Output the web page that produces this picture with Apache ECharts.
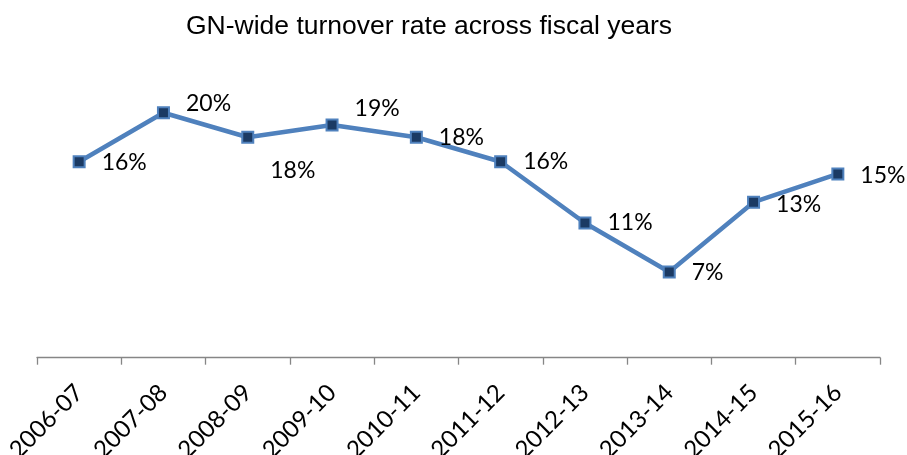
<!DOCTYPE html>
<html>
<head>
<meta charset="utf-8">
<script src="https://cdn.jsdelivr.net/npm/echarts@6/dist/echarts.min.js"></script>
<style>
  html, body { margin: 0; padding: 0; background: #fff; }
  #chart { width: 907px; height: 455px; }
</style>
</head>
<body>
<div id="chart"></div>
<script>
// Fiscal years on the category axis
const fiscalYears = ['2006-07', '2007-08', '2008-09', '2009-10', '2010-11',
                     '2011-12', '2012-13', '2013-14', '2014-15', '2015-16'];
// Turnover rate (%) per fiscal year
const turnoverRate = [16, 20, 18, 19, 18, 16, 11, 7, 12.7, 15];
// Vertical nudge of each value label, in px
const labelShiftY = [1, -9, 33, -16, 0, 0, 0, 1, 2, 2];

const chart = echarts.init(document.getElementById('chart'));

chart.setOption({
  animation: false,
  title: {
    text: 'GN-wide turnover rate across fiscal years',
    left: 424,
    top: 8,
    textAlign: 'center',
    textStyle: {
      fontFamily: 'Liberation Sans, Arial, sans-serif',
      fontSize: 26.5,
      fontWeight: 'normal',
      color: '#000'
    }
  },
  grid: {
    left: 37, right: 27, top: 51.5, bottom: 97.3,
    containLabel: false,
    outerBoundsMode: 'none'
  },
  xAxis: {
    type: 'category',
    data: fiscalYears,
    boundaryGap: true,
    axisLine: { show: true, lineStyle: { color: '#868686', width: 1.3 } },
    axisTick: { show: true, alignWithLabel: false, length: 7, lineStyle: { color: '#868686', width: 1.3 } },
    axisLabel: {
      rotate: 45,
      margin: 31,
      color: '#000',
      fontFamily: 'Lato, Open Sans, sans-serif',
      fontSize: 24
    }
  },
  yAxis: {
    type: 'value',
    min: 0,
    max: 25,
    show: false,
    splitLine: { show: false }
  },
  series: [{
    type: 'line',
    data: turnoverRate.map((v, i) => ({
      value: v,
      label: { offset: [0, labelShiftY[i]] }
    })),
    lineStyle: { color: '#4F81BD', width: 4.5 },
    symbol: 'rect',
    symbolSize: 11,
    itemStyle: { color: '#1B3A63', borderColor: '#4F81BD', borderWidth: 2 },
    label: {
      show: true,
      position: 'right',
      distance: 16,
      color: '#000',
      fontFamily: 'Lato, Open Sans, sans-serif',
      fontSize: 23,
      formatter: p => Math.round(p.value) + '%'
    }
  }]
});
</script>
</body>
</html>
